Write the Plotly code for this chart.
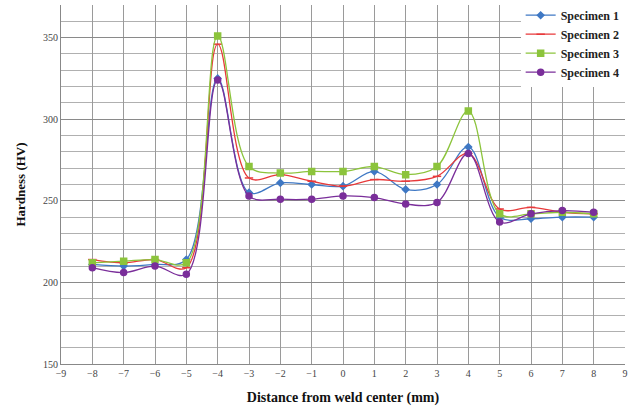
import plotly.graph_objects as go

distance = [-8, -7, -6, -5, -4, -3, -2, -1, 0, 1, 2, 3, 4, 5, 6, 7, 8]
specimen1 = [211, 210, 211, 214, 325, 255, 261, 260, 259, 268, 257, 260, 283, 240, 239, 240, 240]
specimen2 = [214, 212, 214, 209, 346, 264, 266, 262, 259, 263, 262, 265, 279, 245, 246, 243, 242]
specimen3 = [212, 213, 214, 212, 351, 271, 267, 268, 268, 271, 266, 271, 305, 242, 242, 243, 242]
specimen4 = [209, 206, 210, 205, 324, 253, 251, 251, 253, 252, 248, 249, 279, 237, 242, 244, 243]

names = ["Specimen 1", "Specimen 2", "Specimen 3", "Specimen 4"]
colors = ["#3f78c4", "#e8393a", "#8cc43c", "#7a2e9a"]
symbols = ["diamond", "line-ew-open", "square", "circle"]
sizes = [5, 6, 6, 6]

fig = go.Figure()
for name, ys, c, s, sz in zip(names, [specimen1, specimen2, specimen3, specimen4], colors, symbols, sizes):
    fig.add_trace(go.Scatter(
        x=distance, y=ys, name="<b>" + name + "</b>", mode="lines+markers",
        line=dict(color=c, width=1.3, shape="spline", smoothing=1.0),
        marker=dict(symbol=s, size=sz, color=c, line=dict(color=c, width=1.5)),
    ))

fig.update_layout(
    width=634, height=411,
    margin=dict(l=61, r=9, t=5, b=47, autoexpand=False),
    paper_bgcolor="white", plot_bgcolor="white",
    font=dict(family="Liberation Serif", color="#333"),
    showlegend=True,
    legend=dict(
        x=0.815, y=1.012, xanchor="left", yanchor="top",
        bgcolor="white", borderwidth=0,
        font=dict(family="Liberation Serif", size=12, color="#222"),
        itemwidth=30, tracegroupgap=0,
    ),
)
fig.update_xaxes(
    range=[-9, 9], dtick=1, tick0=-9,
    showgrid=True, gridcolor="#9a9a9a", gridwidth=1,
    showline=True, linecolor="#888", zeroline=False,
    ticks="", tickfont=dict(size=10, color="#444", family="Liberation Serif"),
    title=dict(text="<b>Distance from weld center (mm)</b>",
               font=dict(size=14, color="#111", family="Liberation Serif"), standoff=14),
)
fig.update_yaxes(
    range=[150, 370], dtick=50, tick0=150,
    showgrid=True, gridcolor="#8a8a8a", gridwidth=1,
    minor=dict(dtick=10, showgrid=True, gridcolor="#b0b0b0", gridwidth=1),
    showline=True, linecolor="#888", zeroline=False,
    ticks="", tickfont=dict(size=10, color="#444", family="Liberation Serif"),
    title=dict(text="<b>Hardness (HV)</b>",
               font=dict(size=13, color="#111", family="Liberation Serif"), standoff=14),
)

fig.write_html("out.html", post_script="document.body.style.margin='0';",
               config={"displayModeBar": False})
